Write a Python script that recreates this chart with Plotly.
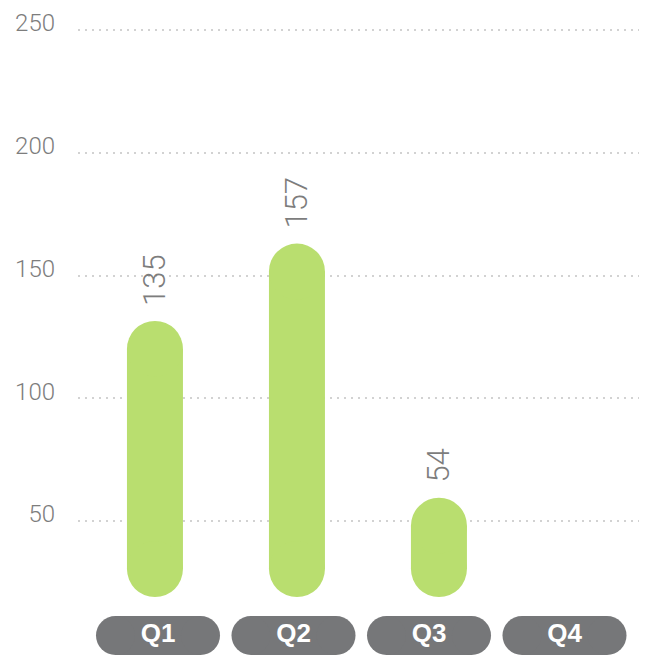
import plotly.graph_objects as go

# data
quarters = ["Q1", "Q2", "Q3", "Q4"]
values = [135, 157, 54, None]          # printed labels
bar_top = [131.5, 163, 59.5, None]     # visible top of each rounded bar (axis units)
bar_floor = 19                         # visible bottom of the rounded bars
y_ticks = [50, 100, 150, 200, 250]

GREEN = "#b9de6f"
PILL = "#767779"
GREY_TXT = "#7d7d7d"

# page body adds an 8px offset, so the figure is 8px smaller than the window
W, H = 639, 648
ML, MR = 70, 7
Y_RANGE = [-4.99, 258.96]
X_RANGE = [-0.542, 3.416]
BAR_PX = 56
PILL_H = 39

px_per_unit = H / (Y_RANGE[1] - Y_RANGE[0])
cap = (BAR_PX / 2) / px_per_unit      # rounded end radius in axis units
slot_px = (W - ML - MR) / (X_RANGE[1] - X_RANGE[0])

idx = [i for i, v in enumerate(values) if v is not None]

fig = go.Figure()

# bar body
fig.add_trace(go.Bar(
    x=idx,
    y=[bar_top[i] - cap - (bar_floor + cap) for i in idx],
    base=[bar_floor + cap for i in idx],
    width=BAR_PX / slot_px,
    marker=dict(color=GREEN, line=dict(width=0)),
    hoverinfo="skip",
))
# rounded ends
cx, cy = [], []
for i in idx:
    cx += [i, i]
    cy += [bar_floor + cap, bar_top[i] - cap]
fig.add_trace(go.Scatter(
    x=cx, y=cy, mode="markers",
    marker=dict(size=BAR_PX, color=GREEN, line=dict(width=0)),
    hoverinfo="skip",
))

# value labels
for i in idx:
    fig.add_annotation(
        x=i, y=bar_top[i], text=str(values[i]), textangle=-90,
        showarrow=False, yanchor="bottom", xanchor="center", yshift=13,
        font=dict(family="Roboto, sans-serif", size=31, color=GREY_TXT, weight=300),
    )

# category pills on their own axes
half = 0.3137
pxs, pys = [], []
for k in range(len(quarters)):
    pxs += [k - half, k + half, None]
    pys += [0.5, 0.5, None]
fig.add_trace(go.Scatter(
    x=pxs, y=pys, xaxis="x2", yaxis="y2", mode="lines+markers",
    line=dict(color=PILL, width=PILL_H),
    marker=dict(size=PILL_H, color=PILL, line=dict(width=0)),
    hoverinfo="skip",
))
fig.add_trace(go.Scatter(
    x=list(range(len(quarters))), y=[0.5] * len(quarters),
    xaxis="x2", yaxis="y2", mode="text", text=quarters,
    textfont=dict(family="Liberation Sans, Arial, sans-serif", size=26, color="white", weight="bold"),
    hoverinfo="skip",
))

plot_w = W - ML - MR
fig.update_layout(
    width=W, height=H,
    margin=dict(l=ML, r=MR, t=0, b=0),
    paper_bgcolor="white", plot_bgcolor="white",
    showlegend=False,
    xaxis=dict(range=X_RANGE, visible=False, fixedrange=True),
    yaxis=dict(
        range=Y_RANGE, tickvals=y_ticks, showgrid=True,
        gridcolor="#d2d2d2", gridwidth=2, griddash="2px,5px",
        zeroline=False, showline=False, ticks="",
        ticklabelstandoff=22, ticklabelshift=-7,
        tickfont=dict(family="Roboto, Liberation Sans, sans-serif", size=24, color=GREY_TXT, weight=300),
    ),
    xaxis2=dict(domain=[(82.25 - ML) / plot_w, (624.25 - ML) / plot_w],
                range=[-0.5, 3.5], visible=False, anchor="y2"),
    yaxis2=dict(domain=[0, 2 * (H - 627.5) / H], range=[0, 1], visible=False, anchor="x2"),
)

fig.write_html("out.html")
